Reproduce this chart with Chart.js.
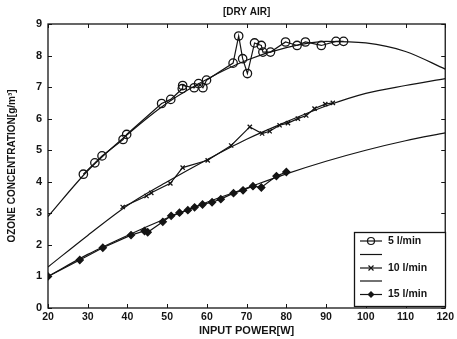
<!DOCTYPE html>
<html>
<head>
<meta charset="utf-8">
<script src="https://cdn.jsdelivr.net/npm/chart.js@4/dist/chart.umd.min.js"></script>
<style>
html, body { margin: 0; padding: 0; background: #fff; }
</style>
</head>
<body>
<canvas id="chart" width="457" height="339"></canvas>
<script>
const power5 = [28.9, 31.8, 33.6, 38.9, 39.8, 48.6, 50.9, 53.8, 53.9, 56.8, 57.9, 59.0, 59.9,
                66.6, 68.0, 69.0, 70.2, 72.0, 73.7, 74.1, 76.0, 79.8, 82.7, 84.8, 88.8, 92.5, 94.4];
const ozone5 = [4.24, 4.6, 4.82, 5.34, 5.5, 6.48, 6.61, 6.95, 7.05, 6.98, 7.11, 6.98, 7.22,
                7.76, 8.62, 7.9, 7.43, 8.4, 8.32, 8.11, 8.11, 8.43, 8.32, 8.43, 8.32, 8.45, 8.45];

const power10 = [38.8, 44.8, 46.0, 50.8, 53.9, 60.2, 66.1, 70.8, 73.9, 75.8, 78.3, 80.4, 82.9, 85.0, 87.1, 89.8, 91.7];
const ozone10 = [3.2, 3.55, 3.65, 3.95, 4.45, 4.68, 5.15, 5.74, 5.53, 5.6, 5.79, 5.86, 6.0, 6.1, 6.32, 6.46, 6.5];

const power15 = [20, 28, 33.8, 40.9, 44.3, 45.1, 48.9, 51, 53.1, 55.2, 56.9, 58.9, 61.3, 63.5, 66.7, 69.1, 71.6, 73.7, 77.5, 80];
const ozone15 = [1.0, 1.52, 1.91, 2.31, 2.44, 2.4, 2.73, 2.92, 3.02, 3.1, 3.19, 3.28, 3.35, 3.45, 3.64, 3.73, 3.86, 3.82, 4.18, 4.31];

// Fitted curves (plain lines), read every 10 W
const fitPower = [20, 30, 40, 50, 60, 70, 80, 90, 100, 110, 120];
const fit5  = [2.9, 4.35, 5.5, 6.5, 7.25, 7.85, 8.25, 8.45, 8.4, 8.13, 7.57];
const fit10 = [1.3, 2.3, 3.25, 4.0, 4.7, 5.35, 5.9, 6.4, 6.8, 7.05, 7.27];
const fit15 = [1.0, 1.7, 2.3, 2.85, 3.35, 3.8, 4.25, 4.65, 5.0, 5.3, 5.55];

const xTicks = [20, 30, 40, 50, 60, 70, 80, 90, 100, 110, 120];
const yTicks = [0, 1, 2, 3, 4, 5, 6, 7, 8, 9];
const legendLabels = ['5 l/min', '10 l/min', '15 l/min'];

const INK = '#141414';
const FONT = '"Liberation Sans", Arial, sans-serif';

function pairs(xs, ys) {
    return xs.map((x, i) => ({ x: x, y: ys[i] }));
}

function measured(xs, ys, style, radius, fill) {
    return {
        data: pairs(xs, ys),
        borderColor: INK,
        borderWidth: 1.2,
        pointStyle: style,
        pointRadius: radius,
        pointBorderColor: INK,
        pointBackgroundColor: fill ? INK : 'rgba(0,0,0,0)',
        pointBorderWidth: 1.3,
        tension: 0
    };
}

function fitted(ys) {
    return {
        data: pairs(fitPower, ys),
        borderColor: INK,
        borderWidth: 1.2,
        pointRadius: 0,
        cubicInterpolationMode: 'monotone'
    };
}

// Draw the box, inward ticks, title and the legend
const framePlugin = {
    id: 'frame',
    afterDraw(chart) {
        const ctx = chart.ctx;
        const a = chart.chartArea;
        const xs = chart.scales.x;
        const ys = chart.scales.y;
        ctx.save();
        ctx.strokeStyle = INK;
        ctx.lineWidth = 1.3;
        ctx.strokeRect(a.left, a.top, a.right - a.left, a.bottom - a.top);

        ctx.lineWidth = 1;
        ctx.beginPath();
        xTicks.forEach(v => {
            const px = Math.round(xs.getPixelForValue(v)) + 0.5;
            ctx.moveTo(px, a.bottom); ctx.lineTo(px, a.bottom - 4);
            ctx.moveTo(px, a.top); ctx.lineTo(px, a.top + 4);
        });
        yTicks.forEach(v => {
            const py = Math.round(ys.getPixelForValue(v)) + 0.5;
            ctx.moveTo(a.left, py); ctx.lineTo(a.left + 4, py);
            ctx.moveTo(a.right, py); ctx.lineTo(a.right - 4, py);
        });
        ctx.stroke();

        // title
        ctx.fillStyle = INK;
        ctx.font = 'bold 10px ' + FONT;
        ctx.textAlign = 'center';
        ctx.textBaseline = 'middle';
        ctx.fillText('[DRY AIR]', (a.left + a.right) / 2, 12);

        // legend box
        const bx = 354.5, by = 232.5, bw = 91, bh = 74;
        ctx.fillStyle = '#fff';
        ctx.fillRect(bx, by, bw, bh);
        ctx.lineWidth = 1.3;
        ctx.strokeRect(bx, by, bw, bh);
        const rows = [241, 254.5, 268, 281, 294.5];
        ctx.lineWidth = 1.2;
        rows.forEach(r => {
            ctx.beginPath();
            ctx.moveTo(360, r); ctx.lineTo(382, r);
            ctx.stroke();
        });
        // markers
        ctx.beginPath();
        ctx.arc(371, rows[0], 3.5, 0, Math.PI * 2);
        ctx.stroke();
        ctx.beginPath();
        ctx.moveTo(368.5, rows[2] - 2.5); ctx.lineTo(373.5, rows[2] + 2.5);
        ctx.moveTo(368.5, rows[2] + 2.5); ctx.lineTo(373.5, rows[2] - 2.5);
        ctx.stroke();
        ctx.fillStyle = INK;
        ctx.beginPath();
        ctx.moveTo(371, rows[4] - 3.5); ctx.lineTo(374.5, rows[4]);
        ctx.lineTo(371, rows[4] + 3.5); ctx.lineTo(367.5, rows[4]);
        ctx.closePath();
        ctx.fill();

        ctx.font = 'bold 10.5px ' + FONT;
        ctx.textAlign = 'left';
        ctx.fillText(legendLabels[0], 388, rows[0]);
        ctx.fillText(legendLabels[1], 388, rows[2]);
        ctx.fillText(legendLabels[2], 388, rows[4]);
        ctx.restore();
    }
};

new Chart(document.getElementById('chart').getContext('2d'), {
    type: 'line',
    data: {
        datasets: [
            measured(power5, ozone5, 'circle', 4.2, false),
            fitted(fit5),
            measured(power10, ozone10, 'crossRot', 3, false),
            fitted(fit10),
            measured(power15, ozone15, 'rectRot', 3.5, true),
            fitted(fit15)
        ]
    },
    options: {
        responsive: false,
        animation: false,
        layout: { padding: { left: 0, right: 11, top: 24, bottom: 0 } },
        plugins: {
            legend: { display: false },
            tooltip: { enabled: false },
            title: { display: false }
        },
        scales: {
            x: {
                type: 'linear',
                min: 20,
                max: 120,
                afterBuildTicks: s => { s.ticks = xTicks.map(v => ({ value: v })); },
                afterFit: s => { s.height = 31; },
                grid: { display: false, drawTicks: false },
                border: { display: false },
                ticks: {
                    color: INK,
                    padding: 3,
                    maxRotation: 0,
                    font: { family: FONT, size: 10.5, weight: 'bold' }
                },
                title: {
                    display: true,
                    text: 'INPUT POWER[W]',
                    color: INK,
                    padding: { top: 0, bottom: 1 },
                    font: { family: FONT, size: 11, weight: 'bold' }
                }
            },
            y: {
                min: 0,
                max: 9,
                afterBuildTicks: s => { s.ticks = yTicks.map(v => ({ value: v })); },
                afterFit: s => { s.width = 48; },
                grid: { display: false, drawTicks: false },
                border: { display: false },
                ticks: {
                    color: INK,
                    padding: 6,
                    font: { family: FONT, size: 11, weight: 'bold' }
                },
                title: {
                    display: true,
                    text: 'OZONE CONCENTRATION[g/m³]',
                    color: INK,
                    padding: { top: 6, bottom: 0 },
                    font: { family: FONT, size: 10, weight: 'bold' }
                }
            }
        }
    },
    plugins: [framePlugin]
});
</script>
</body>
</html>
